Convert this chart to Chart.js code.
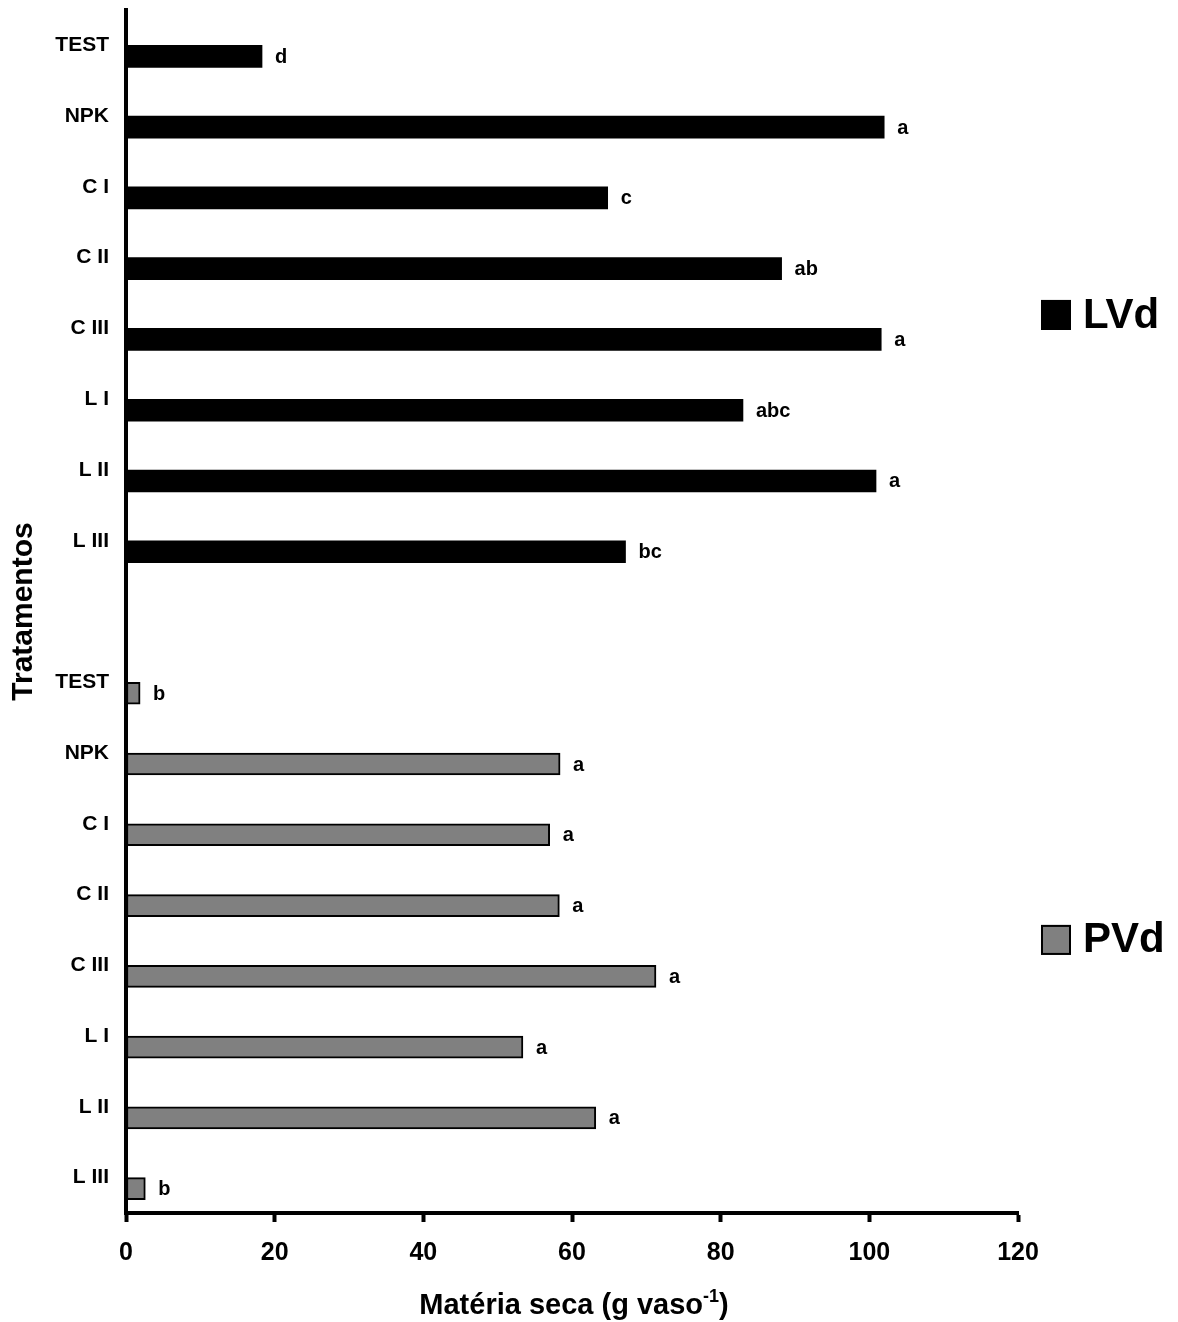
<!DOCTYPE html>
<html>
<head>
<meta charset="utf-8">
<script src="https://cdn.jsdelivr.net/npm/chart.js@4/dist/chart.umd.min.js"></script>
<style>
  html, body { margin: 0; padding: 0; background: #fff; }
  #wrap { width: 1178px; height: 1322px; }
</style>
</head>
<body>
<div id="wrap"><canvas id="c" width="1178" height="1322"></canvas></div>
<script>
// Treatments (same order in both soils)
const treatments = ['TEST', 'NPK', 'C I', 'C II', 'C III', 'L I', 'L II', 'L III'];

// Dry matter, g per pot
const lvdValues = [18.3, 102.0, 64.8, 88.2, 101.6, 83.0, 100.9, 67.2];
const pvdValues = [1.9, 58.4, 57.0, 58.3, 71.3, 53.4, 63.2, 2.6];

// Mean-comparison letters
const lvdLetters = ['d', 'a', 'c', 'ab', 'a', 'abc', 'a', 'bc'];
const pvdLetters = ['b', 'a', 'a', 'a', 'a', 'a', 'a', 'b'];

const seriesNames = ['LVd', 'PVd'];
const xTicks = [0, 20, 40, 60, 80, 100, 120];

// Category axis: LVd block, one empty slot, PVd block
const blank = treatments.map(() => null);
const labels = [...treatments, '', ...treatments];
const lvdData = [...lvdValues, null, ...blank];
const pvdData = [...blank, null, ...pvdValues];
const lvdText = [...lvdLetters, null, ...blank];
const pvdText = [...blank, null, ...pvdLetters];

const FONT = "'Liberation Sans', Arial, Helvetica, sans-serif";
Chart.defaults.font.family = FONT;
Chart.defaults.font.weight = 'bold';
Chart.defaults.color = '#000';

// letters next to each bar end
const letterPlugin = {
  id: 'letters',
  afterDatasetsDraw(chart) {
    const ctx = chart.ctx;
    ctx.save();
    ctx.font = 'bold 20px ' + FONT;
    ctx.fillStyle = '#000';
    ctx.textAlign = 'left';
    ctx.textBaseline = 'middle';
    chart.data.datasets.forEach((ds, di) => {
      if (!ds.letters) return;
      const meta = chart.getDatasetMeta(di);
      meta.data.forEach((el, i) => {
        const t = ds.letters[i];
        if (t == null || ds.data[i] == null) return;
        ctx.fillText(t, el.x + 13, el.y + 1);
      });
    });
    ctx.restore();
  }
};

// side legend, one entry beside each block, plus the x-axis title with superscript
const sidePlugin = {
  id: 'side',
  afterDraw(chart) {
    const ctx = chart.ctx;
    const a = chart.chartArea;
    ctx.save();
    const entries = [
      { ds: chart.data.datasets[1], frac: 0.2535 },
      { ds: chart.data.datasets[2], frac: 0.7730 }
    ];
    entries.forEach(e => {
      const cy = a.top + (a.bottom - a.top) * e.frac;
      const x0 = a.right + 23;
      ctx.fillStyle = e.ds.backgroundColor;
      ctx.fillRect(x0, cy - 15, 30, 30);
      ctx.lineWidth = 2;
      ctx.strokeStyle = '#000';
      ctx.strokeRect(x0 + 1, cy - 14, 28, 28);
      ctx.fillStyle = '#000';
      ctx.font = 'bold 42px ' + FONT;
      ctx.textAlign = 'left';
      ctx.textBaseline = 'middle';
      ctx.fillText(e.ds.label, x0 + 42, cy + 1);
    });

    // x-axis title
    const main = 'Matéria seca (g vaso';
    const sup = '-1';
    const close = ')';
    ctx.textBaseline = 'alphabetic';
    ctx.textAlign = 'left';
    ctx.font = 'bold 29px ' + FONT;
    const wMain = ctx.measureText(main).width;
    const wClose = ctx.measureText(close).width;
    ctx.font = 'bold 18px ' + FONT;
    const wSup = ctx.measureText(sup).width;
    const total = wMain + wSup + wClose;
    let x = (a.left + a.right) / 2 - total / 2 + 2;
    const base = 1314;
    ctx.font = 'bold 29px ' + FONT;
    ctx.fillText(main, x, base);
    x += wMain;
    ctx.font = 'bold 18px ' + FONT;
    ctx.fillText(sup, x, base - 12);
    x += wSup;
    ctx.font = 'bold 29px ' + FONT;
    ctx.fillText(close, x, base);
    ctx.restore();
  }
};

new Chart(document.getElementById('c'), {
  type: 'bar',
  data: {
    labels: labels,
    datasets: [
      {
        // empty upper slot of each category
        label: 'spacer',
        data: labels.map(() => null),
        stack: 'upper',
        backgroundColor: 'rgba(0,0,0,0)'
      },
      {
        label: seriesNames[0],
        data: lvdData,
        letters: lvdText,
        stack: 'lower',
        backgroundColor: '#000000',
        borderColor: '#000000',
        borderWidth: 0
      },
      {
        label: seriesNames[1],
        data: pvdData,
        letters: pvdText,
        stack: 'lower',
        backgroundColor: '#808080',
        borderColor: '#000000',
        borderWidth: 2,
        borderSkipped: false
      }
    ]
  },
  options: {
    indexAxis: 'y',
    responsive: false,
    animation: false,
    devicePixelRatio: 1,
    barThickness: 22,
    layout: { padding: { top: 10, right: 160, bottom: 0, left: 0 } },
    plugins: {
      legend: { display: false },
      tooltip: { enabled: false }
    },
    scales: {
      x: {
        type: 'linear',
        min: xTicks[0],
        max: xTicks[xTicks.length - 1],
        afterBuildTicks(scale) { scale.ticks = xTicks.map(v => ({ value: v })); },
        ticks: { font: { size: 25, weight: 'bold' }, color: '#000', padding: 16 },
        grid: { drawOnChartArea: false, drawTicks: true, tickLength: 9, tickWidth: 4, tickColor: '#000' },
        border: { display: true, color: '#000', width: 4 },
        title: { display: false },
        afterFit(scale) { scale.height = 109; }
      },
      y: {
        type: 'category',
        offset: true,
        ticks: { font: { size: 21, weight: 'bold' }, color: '#000', padding: 17, autoSkip: false },
        grid: { display: false, drawTicks: false },
        border: { display: true, color: '#000', width: 4 },
        title: {
          display: true,
          text: 'Tratamentos',
          font: { size: 30, weight: 'bold' },
          color: '#000',
          padding: { top: 6, bottom: 0 }
        },
        afterFit(scale) { scale.width = 126; scale.paddingTop = 0; scale.paddingBottom = 0; }
      }
    }
  },
  plugins: [letterPlugin, sidePlugin]
});
</script>
</body>
</html>
